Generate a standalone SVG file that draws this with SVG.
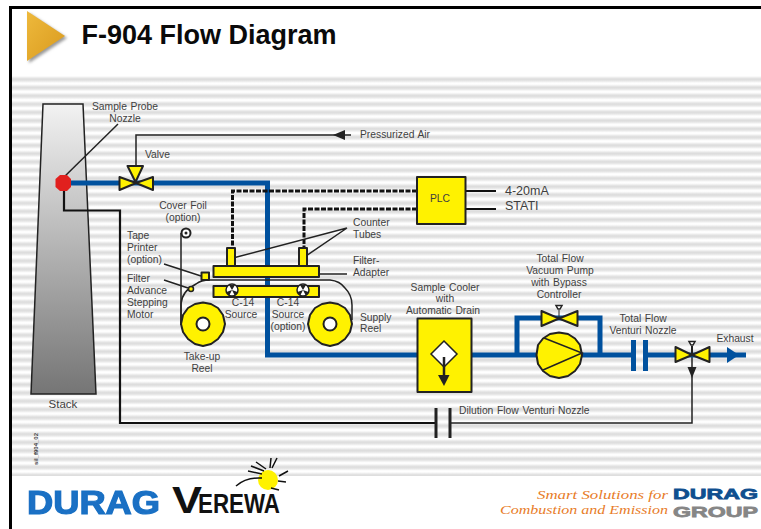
<svg xmlns="http://www.w3.org/2000/svg" width="761" height="529" viewBox="0 0 761 529">
<style>
text{font-family:"Liberation Sans",Arial,sans-serif;font-size:10.300px;word-spacing:.8px;fill:#3f3f3f}
.m{text-anchor:middle}
.y{fill:#fff200;stroke:#222;stroke-width:2;stroke-linejoin:round}
.k{fill:none;stroke:#222;stroke-width:1.500}
.k2{fill:none;stroke:#111;stroke-width:2.200}
.d{fill:none;stroke:#111;stroke-width:3;stroke-dasharray:5 1.500}
.b{fill:none;stroke:#00519e;stroke-width:5}
.h{fill:#222}
</style>
<defs>
<linearGradient id="sg" x1="0" y1="0" x2="0" y2="1"><stop offset="0" stop-color="#fff"/><stop offset=".35" stop-color="#dcdcdc"/><stop offset=".55" stop-color="#e2e2e2"/><stop offset=".85" stop-color="#fff"/><stop offset="1" stop-color="#fff"/></linearGradient>
<pattern id="st" patternUnits="userSpaceOnUse" x="0" y="76" width="20" height="8.250"><rect width="20" height="8.250" fill="url(#sg)"/></pattern>
<linearGradient id="stk" x1="0" y1="0" x2="0" y2="1"><stop offset="0" stop-color="#f2f2f2"/><stop offset="1" stop-color="#757575"/></linearGradient>
<linearGradient id="tri" x1="0" y1="0" x2="1" y2="1"><stop offset="0" stop-color="#eeb93c"/><stop offset="1" stop-color="#d99a1e"/></linearGradient>
<filter id="sh" x="-30%" y="-30%" width="170%" height="170%"><feGaussianBlur stdDeviation="1.500"/></filter>
<filter id="bl" x="-5%" y="-10%" width="110%" height="120%"><feGaussianBlur stdDeviation="0.500"/></filter>
</defs>
<rect width="761" height="529" fill="#fff"/>
<rect x="12" y="76" width="749" height="400" fill="url(#st)"/>
<rect x="9" y="6" width="752" height="3" fill="#000"/>
<rect x="9" y="6" width="3" height="523" fill="#000"/>

<g id="title">
<polygon points="29,13 67,38 29,63" fill="#999" filter="url(#sh)"/>
<polygon points="27,11 65,36 27,61" fill="url(#tri)"/>
<text x="81.500" y="44" style="font-size:27px;word-spacing:0;font-weight:bold;fill:#0a0a0a">F-904 Flow Diagram</text>
</g>

<g id="stack"><polygon points="43,104 83,104 96,394 31,394" fill="url(#stk)" stroke="#222" stroke-width="1.500"/><text x="63" y="408" class="m" style="font-size:11.500px">Stack</text></g>

<g id="connectors">
<path class="k" d="M136,168V135H351"/>
<polygon class="h" points="333,135 345,130 345,140"/>
<path class="k" d="M62,179L118,124"/>
<path class="k2" d="M64,190V210.500H120V423H436"/>
<path class="k" d="M450,423H692V372"/>
<polygon class="h" points="692,378 687.500,367 696.500,367"/>
<path class="k" d="M692,372V350"/>
<path class="b" d="M70,183H267.500V355H417"/>
<path class="b" d="M472,355H632"/>
<path class="b" d="M517,355V318H600V355"/>
<path class="b" d="M648,355H746"/>
<polygon points="727,347 739,355 727,363" fill="#00519e"/>
<path class="d" d="M417,191H232.500V248"/>
<path class="d" d="M417,209H304V248"/>
<path class="k2" d="M466,191H496M466,209H496"/>
<path class="k" d="M347,228L233,258M347,228L303,258"/>
<path class="k" d="M318,274H347"/>
<path class="k" d="M164,264L201,276M164,280L188,288"/>
<path class="k" d="M181,233V323"/>
<path class="k" d="M181,325V304Q182,291 196,284Q201,280 210,280H330Q340,281 345,288Q352,295 352,305V320"/>
</g>

<g id="probe"><polygon points="60,175 67,175 71,179 71,187 67,191 60,191 55.500,187 55.500,179" fill="#e1201e"/><text x="125" y="110" class="m">Sample Probe</text><text x="125" y="122" class="m">Nozzle</text></g>
<g id="valve"><polygon class="y" points="119.500,177 119.500,190 136,183"/><polygon class="y" points="153,177 153,190 136,183"/><polygon class="y" points="127.500,166 143,166 135.500,182"/><text x="145" y="158">Valve</text></g>
<g id="air"><text x="360" y="138">Pressurized Air</text></g>

<g id="plc"><rect class="y" x="417" y="177" width="48.500" height="47"/><text x="440" y="202" class="m">PLC</text><text x="505" y="195" style="font-size:12.500px">4-20mA</text><text x="505" y="210" style="font-size:12.500px">STATI</text></g>

<g id="counter-tubes"><rect class="y" x="227" y="248" width="8" height="19"/><rect class="y" x="299" y="248" width="8" height="19"/><text x="353" y="226">Counter</text><text x="353" y="238">Tubes</text></g>
<g id="filter-adapter"><rect class="y" x="213.500" y="266" width="105.500" height="11"/><text x="353" y="264">Filter-</text><text x="353" y="276">Adapter</text></g>
<g id="c14"><rect class="y" x="213.500" y="286" width="105.500" height="11"/>
<circle cx="232" cy="290" r="6" fill="#fff" stroke="#222" stroke-width="1.500"/><path d="M232,290L229,285H235ZM232,290L226.500,292L229,296ZM232,290L237.500,292L235,296Z" fill="#222"/>
<circle cx="303" cy="290" r="6" fill="#fff" stroke="#222" stroke-width="1.500"/><path d="M303,290L300,285H306ZM303,290L297.500,292L300,296ZM303,290L308.500,292L306,296Z" fill="#222"/>
<text x="243" y="306" class="m">C-14</text><text x="241" y="318" class="m">Source</text><text x="288" y="306" class="m">C-14</text><text x="288" y="318" class="m">Source</text><text x="288" y="330" class="m">(option)</text></g>
<g id="cover-foil"><circle cx="186" cy="233" r="4.500" fill="#fff" stroke="#222" stroke-width="2"/><circle cx="186" cy="233" r="1.500" fill="#222"/><text x="183" y="209" class="m">Cover Foil</text><text x="183" y="221" class="m">(option)</text></g>
<g id="tape-printer"><rect class="y" x="201.500" y="272.500" width="7.500" height="7.500"/><text x="127" y="239">Tape</text><text x="127" y="251">Printer</text><text x="127" y="263">(option)</text></g>
<g id="motor"><circle cx="191" cy="289" r="2.500" fill="#fff200" stroke="#222" stroke-width="1.500"/><text x="127" y="282">Filter</text><text x="127" y="294">Advance</text><text x="127" y="306">Stepping</text><text x="127" y="318">Motor</text></g>
<g id="takeup-reel"><polygon class="y" points="203,302.500 211,304 218,308 223,315 225,324 223,332 218,339 211,344 203,346 195,344 188,339 183,332 181,324 183,315 188,308 195,304"/><circle cx="203" cy="324" r="6.500" fill="#fff" stroke="#222" stroke-width="2"/><text x="202" y="360" class="m">Take-up</text><text x="202" y="372" class="m">Reel</text></g>
<g id="supply-reel"><polygon class="y" points="330,302.500 338,304 345,308 350,315 352,324 350,332 345,339 338,344 330,346 322,344 315,339 310,332 308,324 310,315 315,308 322,304"/><circle cx="330" cy="324" r="6.500" fill="#fff" stroke="#222" stroke-width="2"/><text x="360" y="321">Supply</text><text x="360" y="332">Reel</text></g>

<g id="cooler"><rect class="y" x="417.500" y="318.500" width="54" height="73.500"/><polygon points="444,341 457,354 444,367 431,354" fill="#fff" stroke="#222" stroke-width="1.500"/><path d="M444,357V376" stroke="#222" stroke-width="2.500"/><polygon class="h" points="438,375 449.500,375 444,386"/><text x="445" y="291" class="m">Sample Cooler</text><text x="445" y="302" class="m">with</text><text x="443" y="314" class="m">Automatic Drain</text></g>
<g id="pump"><polygon class="y" points="541.500,311 541.500,326 559,318.500"/><polygon class="y" points="577.500,311 577.500,326 559,318.500"/><path d="M559,310V318" stroke="#222"/><path d="M556,305.500H562L560,309H558Z" fill="#fff" stroke="#222" stroke-width="1.500"/>
<polygon class="y" points="559,332.500 568,334 575,338.500 580,345 582,355 580,364 575,371 568,376 559,378 550,376 543,371 538,364 536.500,355 538,345 543,338.500 550,334"/><path d="M544,338L582,353L543,370" fill="none" stroke="#222" stroke-width="1.500"/>
<text x="560" y="262" class="m">Total Flow</text><text x="560" y="274" class="m">Vacuum Pump</text><text x="559" y="286" class="m">with Bypass</text><text x="559" y="298" class="m">Controller</text></g>
<g id="venturi-total"><rect x="631" y="340" width="5" height="31" fill="#00519e"/><rect x="643" y="340" width="5" height="31" fill="#00519e"/><text x="643" y="322" class="m">Total Flow</text><text x="643" y="334" class="m">Venturi Nozzle</text></g>
<g id="exhaust-valve"><polygon class="y" points="675.500,347 675.500,362 692,355"/><polygon class="y" points="709.500,347 709.500,362 692,355"/><path d="M692,346V355" stroke="#222" stroke-width="2"/><path d="M689,341.500H695L693,345H691Z" fill="#fff" stroke="#222" stroke-width="1.500"/><text x="735" y="342" class="m">Exhaust</text></g>
<g id="venturi-dilution"><path d="M436,408V438M450,408V438" stroke="#222" stroke-width="3"/><text x="459" y="414">Dilution Flow Venturi Nozzle</text></g>

<g id="ref"><text transform="translate(38,465) rotate(-90)" style="font-size:6px;word-spacing:0;font-weight:bold">sil_f904_02</text></g>

<g id="logo-durag"><text x="27" y="514" textLength="133" lengthAdjust="spacingAndGlyphs" filter="url(#bl)" style="font-size:33px;word-spacing:0;font-weight:bold;fill:#1a70c4;stroke:#1a70c4;stroke-width:1.200px">DURAG</text></g>
<g id="logo-verewa"><text x="172" y="513" textLength="30" lengthAdjust="spacingAndGlyphs" style="font-size:36px;word-spacing:0;font-weight:bold;fill:#111">V</text><text x="198" y="513" textLength="82" lengthAdjust="spacingAndGlyphs" style="font-size:27px;word-spacing:0;font-weight:bold;fill:#111">EREWA</text>
<circle cx="268" cy="480" r="10" fill="#fff200"/>
<path d="M236,486Q246,477 262,478M248,471L262,474M251,466L264,471M256,462L266,469M271,458L270,468M277,458L272,468M288,471L279,476M286,482L278,481M279,490L271,488" fill="none" stroke="#111" stroke-width="1.500"/></g>
<g id="logo-group"><text x="668" y="499" text-anchor="end" textLength="131" lengthAdjust="spacingAndGlyphs" style="font-size:12.500px;word-spacing:0;font-style:italic;fill:#e87c28;font-family:'Liberation Serif',serif">Smart Solutions for</text><text x="668" y="514" text-anchor="end" textLength="168" lengthAdjust="spacingAndGlyphs" style="font-size:12.500px;word-spacing:0;font-style:italic;fill:#e87c28;font-family:'Liberation Serif',serif">Combustion and Emission</text>
<text x="673" y="499" textLength="85" lengthAdjust="spacingAndGlyphs" style="font-size:15.500px;word-spacing:0;font-weight:bold;fill:#0f4f8f;stroke:#0f4f8f;stroke-width:.8px">DURAG</text><text x="673" y="517" textLength="85" lengthAdjust="spacingAndGlyphs" style="font-size:15.500px;word-spacing:0;font-weight:bold;fill:#868686;stroke:#868686;stroke-width:.8px">GROUP</text></g>
</svg>
